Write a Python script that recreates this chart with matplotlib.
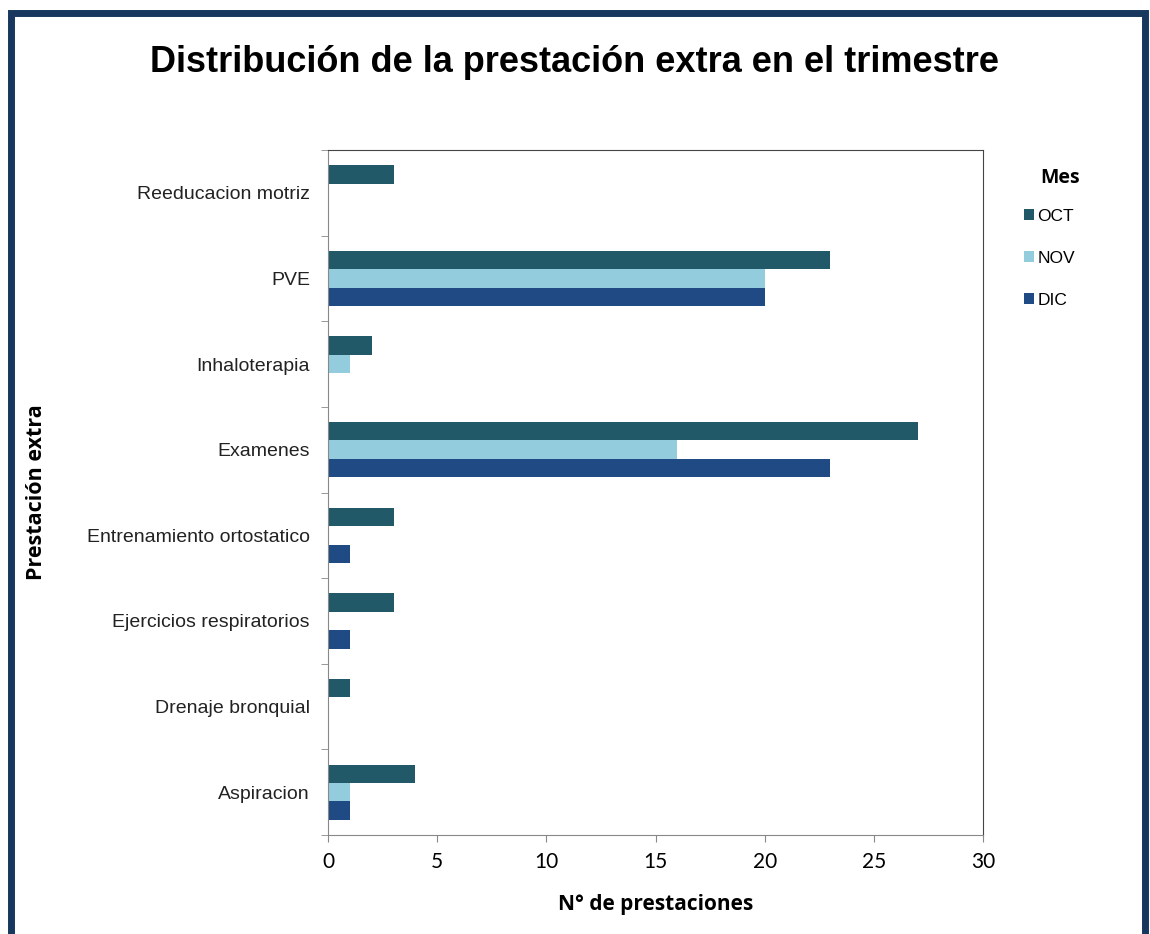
import numpy as np
import matplotlib.pyplot as plt
from matplotlib.patches import Rectangle

categories = ['Aspiracion', 'Drenaje bronquial', 'Ejercicios respiratorios',
              'Entrenamiento ortostatico', 'Examenes', 'Inhaloterapia',
              'PVE', 'Reeducacion motriz']
oct_vals = [4, 1, 3, 3, 27, 2, 23, 3]
nov_vals = [1, 0, 0, 0, 16, 1, 20, 0]
dic_vals = [1, 0, 1, 1, 23, 0, 20, 0]
series = [('OCT', oct_vals, '#215968'),
          ('NOV', nov_vals, '#93CDDD'),
          ('DIC', dic_vals, '#1F4A84')]

W, H = 1150, 934
fig = plt.figure(figsize=(W / 100, H / 100), dpi=100)
ax = fig.add_axes([328 / W, 1 - 835 / H, (983 - 328) / W, (835 - 150) / H])

# outer frame
fig.patches.append(Rectangle((11 / W, -0.05), (1145 - 11) / W, 1.05 - 13 / H,
                             transform=fig.transFigure, fill=False,
                             edgecolor='#17375E', linewidth=5, zorder=10))

y = np.arange(len(categories))
bh = 0.215
for i, (name, vals, col) in enumerate(series):
    ax.barh(y + (1 - i) * bh, vals, height=bh, color=col, label=name)

ax.set_xlim(0, 30)
ax.set_ylim(-0.5, len(categories) - 0.5)
ax.set_xticks(range(0, 31, 5))
ax.set_yticks(y)
ax.set_yticklabels(categories, family='Liberation Sans', fontsize=14, color='#222222')
ax.set_yticks(np.arange(-0.5, len(categories), 1), minor=True)
ax.tick_params(axis='y', which='major', length=0, pad=13)
ax.tick_params(axis='y', which='minor', length=5, color='#888888')
ax.tick_params(axis='x', length=5, color='#888888', labelsize=15, pad=7)
for lab in ax.get_xticklabels():
    lab.set_family('Lato')
for s in ax.spines.values():
    s.set_color('#888888')
ax.spines['top'].set_color('#444444')
ax.spines['right'].set_color('#444444')

ax.set_xlabel('N° de prestaciones', family='Open Sans', fontweight='bold', fontsize=15, labelpad=16)
ax.set_ylabel('Prestación extra', family='Open Sans', fontweight='bold', fontsize=15.5)
ax.yaxis.set_label_coords((47 - 328) / (983 - 328), 0.5)

fig.text(575 / W, 1 - 62 / H, 'Distribución de la prestación extra en el trimestre',
         ha='center', va='center', family='Liberation Sans', fontweight='bold', fontsize=26)

fig.text(1060 / W, 1 - 178 / H, 'Mes', ha='center', va='center',
         family='Open Sans', fontweight='bold', fontsize=14)
ax.legend(loc='upper left', bbox_to_anchor=(1.038, 0.937), frameon=False,
          handlelength=0.6, handleheight=0.6, handletextpad=0.2,
          labelspacing=1.55, prop={'family': 'Liberation Sans', 'size': 12.5})

fig.savefig('out.png', dpi=100)
